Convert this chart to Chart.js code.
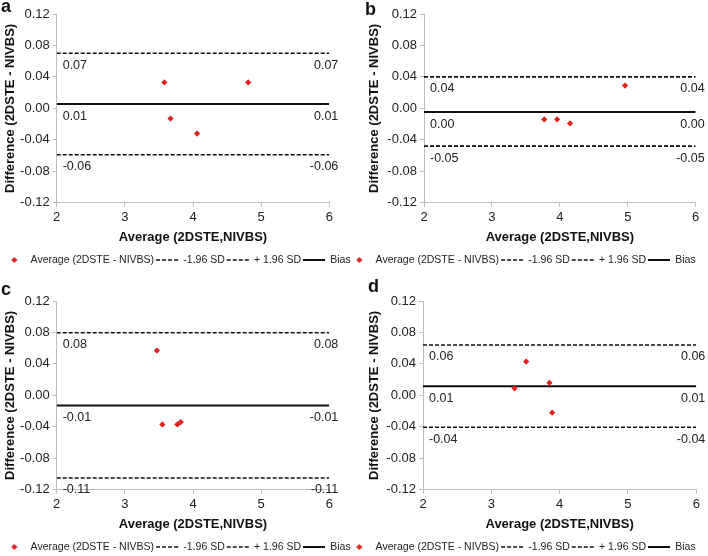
<!DOCTYPE html>
<html>
<head>
<meta charset="utf-8">
<script src="https://cdn.jsdelivr.net/npm/chart.js@4.4.1/dist/chart.umd.min.js"></script>
<style>
body{margin:0;background:#fff;width:708px;height:556px;overflow:hidden;position:relative;font-family:"Liberation Sans",Arial,sans-serif}
canvas{position:absolute}
.tag{position:absolute;font-weight:bold;font-size:18px;line-height:1;color:#111}
</style>
</head>
<body>
<canvas id="pa" width="354" height="276" style="left:0;top:0"></canvas>
<canvas id="pb" width="372" height="276" style="left:336px;top:0"></canvas>
<canvas id="pc" width="354" height="276" style="left:0;top:287px"></canvas>
<canvas id="pd" width="372" height="276" style="left:336px;top:287px"></canvas>
<div class="tag" style="left:1px;top:-3px">a</div>
<div class="tag" style="left:365px;top:0px">b</div>
<div class="tag" style="left:1px;top:280px">c</div>
<div class="tag" style="left:368px;top:277px">d</div>
<script>
// tick labels
var xTicks = [2, 3, 4, 5, 6];
var yTicks = [-0.12, -0.08, -0.04, 0, 0.04, 0.08, 0.12];
var seriesNames = ['Average (2DSTE - NIVBS)', '-1.96 SD', '+ 1.96 SD', 'Bias'];

// panel a
var xA = [3.58, 3.67, 4.06, 4.81];
var yA = [0.033, -0.013, -0.032, 0.033];
var limitsA = [0.070, 0.0055, -0.059];   // +1.96 SD, bias, -1.96 SD
var limitTextA = ['0.07', '0.01', '-0.06'];
// panel b
var xB = [3.77, 3.96, 4.15, 4.96];
var yB = [-0.014, -0.014, -0.019, 0.029];
var limitsB = [0.040, -0.0047, -0.048];
var limitTextB = ['0.04', '0.00', '-0.05'];
// panel c
var xC = [3.47, 3.55, 3.77, 3.82];
var yC = [0.057, -0.037, -0.037, -0.034];
var limitsC = [0.0796, -0.013, -0.105];
var limitTextC = ['0.08', '-0.01', '-0.11'];
// panel d
var xD = [3.34, 3.51, 3.85, 3.89];
var yD = [0.009, 0.043, 0.016, -0.022];
var limitsD = [0.064, 0.0117, -0.0406];
var limitTextD = ['0.06', '0.01', '-0.04'];

var fontFam = '"Liberation Sans", Arial, sans-serif';
var red = '#e0201b';
var axisGray = '#bdbdbd';

// petit losange rouge pour la légende
var diamond = document.createElement('canvas');
diamond.width = 8; diamond.height = 8;
(function(){
  var c = diamond.getContext('2d');
  c.fillStyle = red;
  c.beginPath();
  c.moveTo(4, 0.9); c.lineTo(7.1, 4); c.lineTo(4, 7.1); c.lineTo(0.9, 4);
  c.closePath(); c.fill();
})();

// écrit les valeurs sous chaque ligne, aux deux bouts
var limitText = {
  id: 'limitText',
  afterDatasetsDraw: function(chart, args, opts){
    var ctx = chart.ctx, x = chart.scales.x, y = chart.scales.y;
    ctx.save();
    ctx.font = '12.5px ' + fontFam;
    ctx.fillStyle = '#222';
    ctx.textBaseline = 'middle';
    opts.values.forEach(function(v, i){
      var py = y.getPixelForValue(v) + 12;
      ctx.textAlign = 'left';
      ctx.fillText(opts.texts[i], x.getPixelForValue(x.min) + 6, py);
      ctx.textAlign = 'right';
      ctx.fillText(opts.texts[i], x.getPixelForValue(x.max) + 9, py);
    });
    ctx.restore();
  }
};

function limitLine(label, v, dashed){
  var xMin = xTicks[0], xMax = xTicks[xTicks.length - 1];
  return {
    label: label,
    data: [{x: xMin, y: v}, {x: xMax, y: v}],
    showLine: true,
    borderColor: '#111',
    backgroundColor: '#111',
    borderWidth: dashed ? 1.6 : 2,
    borderDash: dashed ? [4, 2] : [],
    pointRadius: 0,
    pointHoverRadius: 0
  };
}

function makePanel(id, xs, ys, limits, texts, leftW, titlePad, rightW){
  var pts = xs.map(function(v, i){ return {x: v, y: ys[i]}; });
  new Chart(document.getElementById(id), {
    type: 'scatter',
    data: {
      datasets: [
        {label: seriesNames[0], data: pts, pointStyle: 'rectRot', pointRadius: 3.1,
         backgroundColor: red, borderColor: red, borderWidth: 0},
        limitLine(seriesNames[1], limits[2], true),
        limitLine(seriesNames[2], limits[0], true),
        limitLine(seriesNames[3], limits[1], false)
      ]
    },
    options: {
      responsive: false,
      animation: false,
      devicePixelRatio: 1,
      layout: {padding: {top: 14, left: 0, right: 0, bottom: 0.75}},
      scales: {
        x: {
          type: 'linear', min: xTicks[0], max: xTicks[xTicks.length - 1],
          afterBuildTicks: function(s){ s.ticks = xTicks.map(function(v){ return {value: v}; }); },
          ticks: {font: {size: 13, family: fontFam}, color: '#222', padding: 3, maxRotation: 0},
          grid: {drawOnChartArea: false, tickLength: 4, color: axisGray},
          border: {color: axisGray},
          title: {display: true, text: 'Average (2DSTE,NIVBS)', color: '#111',
                  font: {size: 13, weight: 'bold', family: fontFam}, padding: {top: 4, bottom: 8}},
          afterFit: function(s){ s.height = 50; }
        },
        y: {
          type: 'linear', min: yTicks[0], max: yTicks[yTicks.length - 1],
          afterBuildTicks: function(s){ s.ticks = yTicks.map(function(v){ return {value: v}; }); },
          ticks: {font: {size: 13, family: fontFam}, color: '#222', padding: 3,
                  callback: function(v){ return (Math.abs(v) < 1e-9 ? 0 : v).toFixed(2); }},
          grid: {drawOnChartArea: false, tickLength: 4, color: axisGray},
          border: {color: axisGray},
          title: {display: true, text: 'Difference (2DSTE - NIVBS)', color: '#111',
                  font: {size: 13, weight: 'bold', family: fontFam}, padding: {top: titlePad, bottom: 0}},
          afterFit: function(s){ s.width = leftW; }
        },
        y2: {
          position: 'right', display: true,
          ticks: {display: false}, grid: {display: false}, border: {display: false},
          afterFit: function(s){ s.width = rightW; }
        }
      },
      plugins: {
        tooltip: {enabled: false},
        legend: {
          position: 'bottom',
          labels: {
            usePointStyle: true, pointStyleWidth: 22, padding: 2,
            font: {size: 10.5, family: fontFam}, color: '#222',
            generateLabels: function(chart){
              var items = Chart.defaults.plugins.legend.labels.generateLabels(chart);
              items.forEach(function(it, i){
                var ds = chart.data.datasets[it.datasetIndex];
                if (i === 0) {
                  it.pointStyle = diamond;
                } else {
                  it.pointStyle = 'line';
                  it.lineWidth = ds.borderWidth;
                  it.lineDash = ds.borderDash;
                  it.strokeStyle = ds.borderColor;
                }
              });
              return items;
            }
          }
        },
        limitText: {values: limits, texts: texts}
      }
    },
    plugins: [limitText]
  });
}

makePanel('pa', xA, yA, limitsA, limitTextA, 56.7, 2.2, 24.7);
makePanel('pb', xB, yB, limitsB, limitTextB, 88, 30.2, 12.3);
makePanel('pc', xC, yC, limitsC, limitTextC, 56.7, 2.2, 24.7);
makePanel('pd', xD, yD, limitsD, limitTextD, 87, 30.2, 11.7);
</script>
</body>
</html>
